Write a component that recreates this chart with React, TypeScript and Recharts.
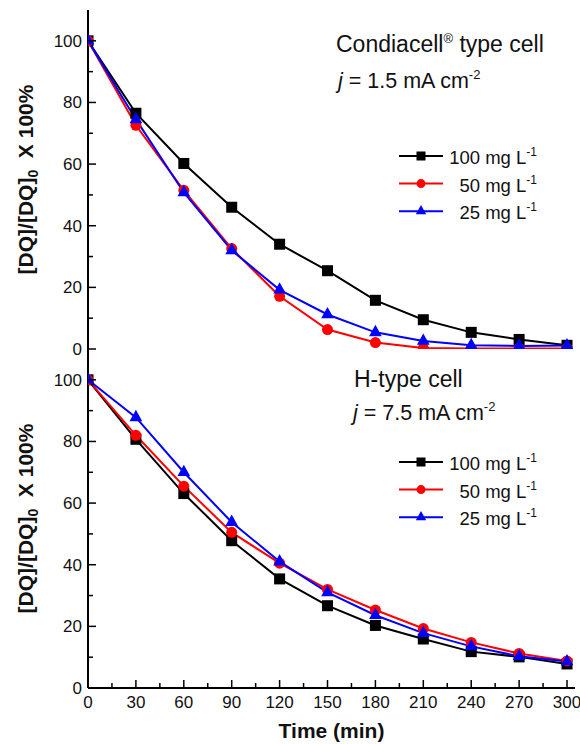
import React from "react";
import { LineChart, Line, XAxis, YAxis, Legend } from "recharts";

const FONT = "'Liberation Sans', Arial, Helvetica, sans-serif";

// sampling times (min)
const time = [0, 30, 60, 90, 120, 150, 180, 210, 240, 270, 300];

// tick values
const xTicks = [0, 15, 30, 45, 60, 75, 90, 105, 120, 135, 150, 165, 180, 195, 210, 225, 240, 255, 270, 285, 300];
const yTicks = [0, 10, 20, 30, 40, 50, 60, 70, 80, 90, 100];

// series
const concentrations = ["100", "50", "25"];
const seriesKeys = ["c100", "c50", "c25"];
const seriesColors = ["#000000", "#ff0000", "#0000ff"];
const markerShapes = ["square", "circle", "triangle"];

// Condiacell type cell, j = 1.5 mA cm-2
const condiacell100 = [100, 76.5, 60.2, 46, 34, 25.4, 15.8, 9.5, 5.4, 3.1, 1.2];
const condiacell50 = [100, 72.6, 51.5, 32.6, 17.1, 6.3, 2.1, 0.3, 0.2, 0.2, 0.2];
const condiacell25 = [100, 74.5, 50.8, 32, 19.2, 11.2, 5.4, 2.6, 1.2, 1, 1.1];

// H-type cell, j = 7.5 mA cm-2
const hType100 = [100, 80.7, 63.1, 47.8, 35.4, 26.7, 20.3, 15.9, 11.8, 10.1, 7.8];
const hType50 = [100, 82, 65.5, 50.5, 40.5, 32, 25.3, 19.3, 14.8, 11.2, 8.8];
const hType25 = [100, 87.8, 70, 53.8, 41, 31, 23.6, 17.8, 13.5, 10.3, 8.6];

const condiacellData = time.map((t, i) => ({
  t,
  c100: condiacell100[i],
  c50: condiacell50[i],
  c25: condiacell25[i],
}));

const hTypeData = time.map((t, i) => ({
  t,
  c100: hType100[i],
  c50: hType50[i],
  c25: hType25[i],
}));

function Marker({ shape, cx, cy, color, size }: any) {
  if (shape === "square") {
    return <rect x={cx - size / 2} y={cy - size / 2} width={size} height={size} fill={color} />;
  }
  if (shape === "circle") {
    return <circle cx={cx} cy={cy} r={size / 2} fill={color} />;
  }
  const s = size * 1.15;
  const h = s * 0.9;
  return (
    <polygon
      points={`${cx},${cy - (h * 2) / 3} ${cx - s / 2},${cy + h / 3} ${cx + s / 2},${cy + h / 3}`}
      fill={color}
    />
  );
}

// inward ticks, labels outside
const LeftTick = ({ x, y, payload }: any) => {
  const major = payload.value % 20 === 0;
  return (
    <g>
      <line x1={x} y1={y} x2={x + (major ? 8 : 5)} y2={y} stroke="#000" strokeWidth={1.5} />
      {major && (
        <text x={x - 6} y={y + 6} textAnchor="end" fontSize={17} fontFamily={FONT} fill="#111">
          {payload.value}
        </text>
      )}
    </g>
  );
};

const RightTick = ({ x, y, payload }: any) => {
  const major = payload.value % 20 === 0;
  return <line x1={x} y1={y} x2={x - (major ? 8 : 5)} y2={y} stroke="#000" strokeWidth={1.5} />;
};

const TopTick = ({ x, y, payload }: any) => {
  const major = payload.value % 30 === 0;
  return <line x1={x} y1={y} x2={x} y2={y + (major ? 8 : 5)} stroke="#000" strokeWidth={1.5} />;
};

const BottomTick = ({ x, y, payload, showLabel }: any) => {
  const major = payload.value % 30 === 0;
  return (
    <g>
      <line x1={x} y1={y} x2={x} y2={y - (major ? 8 : 5)} stroke="#000" strokeWidth={1.5} />
      {showLabel && major && (
        <text x={x} y={y + 20} textAnchor="middle" fontSize={17} fontFamily={FONT} fill="#111">
          {payload.value}
        </text>
      )}
    </g>
  );
};

const YTitle = ({ viewBox }: any) => {
  const cx = viewBox.x + 33;
  const cy = viewBox.y + viewBox.height / 2;
  return (
    <text
      transform={`rotate(-90 ${cx} ${cy})`}
      x={cx}
      y={cy}
      textAnchor="middle"
      fontSize={21}
      fontWeight="bold"
      fontFamily={FONT}
      fill="#111"
    >
      [DQ]/[DQ]
      <tspan dy={5} fontSize={14}>0</tspan>
      <tspan dy={-5}>{"\u00a0\u00a0X 100%"}</tspan>
    </text>
  );
};

const XTitle = ({ viewBox }: any) => (
  <text
    x={viewBox.x + viewBox.width / 2}
    y={viewBox.y + 50}
    textAnchor="middle"
    fontSize={21}
    fontWeight="bold"
    fontFamily={FONT}
    fill="#111"
  >
    Time (min)
  </text>
);

const LegendBox = ({ payload }: any) => {
  const entries = [...(payload || [])].sort(
    (a: any, b: any) => seriesKeys.indexOf(a.dataKey) - seriesKeys.indexOf(b.dataKey)
  );
  return (
    <svg width={160} height={88} style={{ display: "block" }}>
      {entries.map((entry: any, i: number) => {
        const idx = seriesKeys.indexOf(entry.dataKey);
        const cy = 16 + i * 27.6;
        return (
          <g key={entry.dataKey}>
            <line x1={4} y1={cy} x2={48} y2={cy} stroke={entry.color} strokeWidth={2} />
            <Marker shape={markerShapes[idx]} cx={26} cy={cy} color={entry.color} size={9} />
            <text x={142} y={cy + 8} textAnchor="end" fontSize={18.5} fontFamily={FONT} fill="#111">
              {`${concentrations[idx]} mg L`}
              <tspan dy={-8} fontSize={12}>-1</tspan>
            </text>
          </g>
        );
      })}
    </svg>
  );
};

function Panel({ data, height, margin, showXLabels, legendTop }: any) {
  return (
    <LineChart width={580} height={height} data={data} margin={margin}>
      <XAxis
        dataKey="t"
        type="number"
        domain={[0, 305]}
        allowDataOverflow
        ticks={xTicks}
        interval={0}
        height={showXLabels ? 56 : 0}
        tickSize={0}
        tickMargin={0}
        tick={(p: any) => <BottomTick {...p} showLabel={showXLabels} />}
        axisLine={{ stroke: "#000", strokeWidth: 2 }}
        label={showXLabels ? <XTitle /> : undefined}
      />
      <XAxis
        xAxisId="top"
        orientation="top"
        dataKey="t"
        type="number"
        domain={[0, 305]}
        allowDataOverflow
        ticks={xTicks}
        interval={0}
        height={0}
        tickSize={0}
        tickMargin={0}
        tick={(p: any) => <TopTick {...p} />}
        axisLine={{ stroke: "#000", strokeWidth: 1.5 }}
      />
      <YAxis
        type="number"
        domain={[0, 110]}
        allowDataOverflow
        ticks={yTicks}
        interval={0}
        width={88}
        tickSize={0}
        tickMargin={0}
        tick={(p: any) => <LeftTick {...p} />}
        axisLine={{ stroke: "#000", strokeWidth: 2 }}
        label={<YTitle />}
      />
      <YAxis
        yAxisId="right"
        orientation="right"
        type="number"
        domain={[0, 110]}
        allowDataOverflow
        ticks={yTicks}
        interval={0}
        width={0}
        tickSize={0}
        tickMargin={0}
        tick={(p: any) => <RightTick {...p} />}
        axisLine={{ stroke: "#000", strokeWidth: 1.5 }}
      />
      <Legend
        layout="vertical"
        align="center"
        verticalAlign="middle"
        itemSorter={null as any}
        wrapperStyle={{ left: 395, top: legendTop, width: 160 }}
        content={<LegendBox />}
      />
      {seriesKeys.map((key, i) => (
        <Line
          key={key}
          type="linear"
          dataKey={key}
          name={concentrations[i]}
          stroke={seriesColors[i]}
          strokeWidth={2}
          isAnimationActive={false}
          activeDot={false}
          dot={(p: any) => (
            <Marker
              key={`${key}-${p.index}`}
              shape={markerShapes[i]}
              cx={p.cx}
              cy={p.cy}
              color={seriesColors[i]}
              size={11}
            />
          )}
        />
      ))}
    </LineChart>
  );
}

export default function App() {
  return (
    <div
      style={{
        position: "absolute",
        left: 0,
        top: 0,
        width: 580,
        height: 744,
        background: "#fff",
        fontFamily: FONT,
      }}
    >
      <div style={{ position: "absolute", left: 0, top: 0 }}>
        <Panel
          data={condiacellData}
          height={362}
          margin={{ top: 10, right: 5, bottom: 13, left: 0 }}
          showXLabels={false}
          legendTop={140}
        />
      </div>
      <div style={{ position: "absolute", left: 0, top: 339 }}>
        <Panel
          data={hTypeData}
          height={405}
          margin={{ top: 10, right: 5, bottom: 0, left: 0 }}
          showXLabels={true}
          legendTop={107}
        />
      </div>
      <svg
        width={580}
        height={744}
        style={{ position: "absolute", left: 0, top: 0, pointerEvents: "none" }}
        fontFamily={FONT}
        fill="#111"
      >
        <text x={336} y={52} fontSize={23}>
          Condiacell
          <tspan dy={-9} fontSize={13}>®</tspan>
          <tspan dy={9}>{"\u00a0type cell"}</tspan>
        </text>
        <text x={338} y={88} fontSize={21.5}>
          <tspan fontStyle="italic">j</tspan>
          {" = 1.5 mA cm"}
          <tspan dy={-9} fontSize={13}>-2</tspan>
        </text>
        <text x={354} y={387} fontSize={23}>
          H-type cell
        </text>
        <text x={353} y={420} fontSize={21.5}>
          <tspan fontStyle="italic">j</tspan>
          {" = 7.5 mA cm"}
          <tspan dy={-9} fontSize={13}>-2</tspan>
        </text>
      </svg>
    </div>
  );
}
